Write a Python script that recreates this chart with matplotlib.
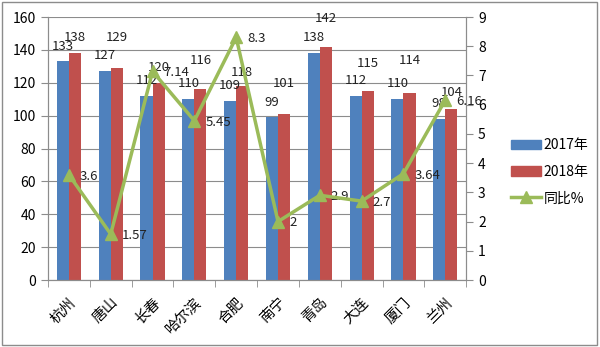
import matplotlib.pyplot as plt
from matplotlib.lines import Line2D
from matplotlib.patches import Patch, Rectangle
import numpy as np

plt.rcParams['font.family'] = ['Noto Sans CJK SC', 'DejaVu Sans']

cities = ['杭州', '唐山', '长春', '哈尔滨', '合肥', '南宁', '青岛', '大连', '厦门', '兰州']
v2017 = [133, 127, 112, 110, 109, 99, 138, 112, 110, 98]
v2018 = [138, 129, 120, 116, 118, 101, 142, 115, 114, 104]
yoy = [3.6, 1.57, 7.14, 5.45, 8.3, 2, 2.9, 2.7, 3.64, 6.16]
yoy_text = ['3.6', '1.57', '7.14', '5.45', '8.3', '2', '2.9', '2.7', '3.64', '6.16']

# extra lift (points) for the red labels, Excel pushes some up to avoid overlaps
red_lift = [11, 22, 11, 21, 10, 22, 20, 20, 23, 12]

blue = '#4F81BD'
red = '#C0504D'
green = '#9BBB59'

fig = plt.figure(figsize=(6, 3.47), dpi=100)
ax = fig.add_axes([0.08, 0.193, 0.697, 0.758])
ax2 = ax.twinx()

x = np.arange(len(cities))
w = 0.29
ax.bar(x - w / 2, v2017, w, color=blue, zorder=2)
ax.bar(x + w / 2, v2018, w, color=red, zorder=2)

for i in range(len(x)):
    ax.annotate(str(v2017[i]), (x[i] - w / 2, v2017[i]), xytext=(0, 11),
                textcoords='offset points', ha='center', va='center', fontsize=9.5, color='#222222', zorder=5)
    ax.annotate(str(v2018[i]), (x[i] + w / 2, v2018[i]), xytext=(0, red_lift[i]),
                textcoords='offset points', ha='center', va='center', fontsize=9.5, color='#222222', zorder=5)

ax2.plot(x, yoy, color=green, lw=2.5, marker='^', markersize=9, zorder=4)
for i in range(len(x)):
    ax2.annotate(yoy_text[i], (x[i], yoy[i]), xytext=(8, -1), textcoords='offset points',
                 ha='left', va='center', fontsize=9.5, color='#222222')

ax.set_xlim(-0.5, len(cities) - 0.5)
ax.set_ylim(0, 160)
ax.set_yticks(range(0, 161, 20))
ax2.set_ylim(0, 9)
ax2.set_yticks(range(0, 10))

ax.yaxis.grid(True, color='#8c8c8c', lw=0.8, zorder=0)
ax.set_axisbelow(True)

ax.set_xticks(x)
ax.set_xticklabels(cities, rotation=45, ha='right', rotation_mode='anchor', fontsize=10.5)
ax.tick_params(axis='x', length=0, pad=11)
ax.set_xticks(np.arange(-0.5, len(cities)), minor=True)
ax.tick_params(axis='x', which='minor', length=5, color='#8c8c8c')
ax.tick_params(axis='y', length=5, color='#8c8c8c', labelsize=10)
ax2.tick_params(axis='y', length=5, color='#8c8c8c', labelsize=10)

for a in (ax, ax2):
    a.spines['top'].set_visible(False)
    for s in ('left', 'right', 'bottom'):
        a.spines[s].set_color('#8c8c8c')

handles = [Patch(color=blue), Patch(color=red),
           Line2D([0], [0], color=green, lw=2.5, marker='^', markersize=9)]
fig.legend(handles, ['2017年', '2018年', '同比%'], loc='center left',
           bbox_to_anchor=(0.83, 0.505), frameon=False, fontsize=10,
           handlelength=2.2, labelspacing=0.9, handletextpad=0.2)

fig.patches.append(Rectangle((0.004, 0.006), 0.991, 0.988, transform=fig.transFigure,
                             fill=False, edgecolor='#8c8c8c', lw=1))

fig.savefig('out.png', dpi=100)
